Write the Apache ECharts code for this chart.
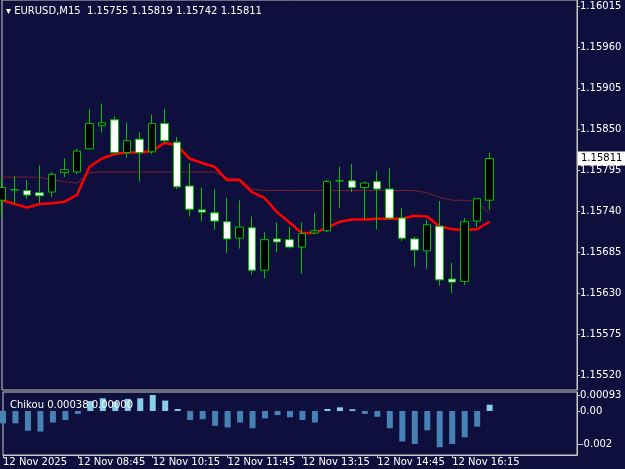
<!DOCTYPE html>
<html>
<head>
<meta charset="utf-8">
<title>EURUSD,M15</title>
<script src="https://cdn.jsdelivr.net/npm/echarts@6/dist/echarts.min.js"></script>
<style>html,body{margin:0;padding:0;background:#0f0f3d;}#chart{width:625px;height:469px;}</style>
</head>
<body>
<div id="chart"></div>
<script>
// candles: [open, close, low, high]
const opens  = [1.15755,1.15769,1.15768,1.15765,1.15766,1.15792,1.15793,1.15824,1.15855,1.15863,1.15819,1.15837,1.15820,1.15858,1.15833,1.15774,1.15742,1.15738,1.15726,1.15704,1.15718,1.15661,1.15703,1.15702,1.15692,1.15711,1.15714,1.15781,1.15781,1.15772,1.15780,1.15770,1.15731,1.15703,1.15687,1.15720,1.15649,1.15646,1.15727,1.15755];
const closes = [1.15772,1.15769,1.15762,1.15761,1.15790,1.15796,1.15821,1.15858,1.15859,1.15819,1.15835,1.15819,1.15858,1.15835,1.15773,1.15743,1.15739,1.15727,1.15703,1.15719,1.15661,1.15702,1.15699,1.15692,1.15710,1.15714,1.15780,1.15781,1.15772,1.15778,1.15770,1.15731,1.15704,1.15688,1.15722,1.15648,1.15645,1.15726,1.15757,1.15811];
const highs  = [1.15786,1.15788,1.15782,1.15802,1.15793,1.15811,1.15824,1.15878,1.15885,1.15868,1.15859,1.15846,1.15870,1.15878,1.15840,1.15805,1.15772,1.15770,1.15758,1.15755,1.15733,1.15712,1.15725,1.15719,1.15725,1.15738,1.15782,1.15800,1.15804,1.15780,1.15794,1.15798,1.15745,1.15706,1.15729,1.15754,1.15671,1.15731,1.15758,1.15819];
const lows   = [1.15733,1.15751,1.15757,1.15751,1.15759,1.15786,1.15790,1.15823,1.15846,1.15817,1.15812,1.15780,1.15817,1.15832,1.15770,1.15733,1.15727,1.15715,1.15684,1.15690,1.15655,1.15650,1.15685,1.15690,1.15656,1.15710,1.15712,1.15745,1.15766,1.15730,1.15716,1.15730,1.15700,1.15665,1.15663,1.15640,1.15630,1.15641,1.15719,1.15742];
const fastLine = [1.15755,1.15750,1.15745,1.15750,1.15751,1.15753,1.15762,1.15800,1.15811,1.15817,1.15819,1.15819,1.15821,1.15832,1.15829,1.15811,1.15805,1.15800,1.15782,1.15782,1.15766,1.15758,1.15739,1.15725,1.15711,1.15711,1.15718,1.15726,1.15729,1.15729,1.15730,1.15730,1.15730,1.15734,1.15733,1.15720,1.15716,1.15715,1.15716,1.15726];
const slowLine = [1.15786,1.15786,1.15786,1.15786,1.15782,1.15780,1.15778,1.15792,1.15793,1.15793,1.15793,1.15793,1.15793,1.15793,1.15793,1.15793,1.15793,1.15793,1.15785,1.15784,1.15770,1.15768,1.15768,1.15768,1.15768,1.15768,1.15768,1.15768,1.15768,1.15768,1.15768,1.15768,1.15768,1.15768,1.15765,1.15759,1.15755,1.15755,1.15753,1.15737];
const chikou = [-0.00075,-0.00075,-0.0012,-0.00125,-0.0007,-0.00055,-0.00018,0.0006,0.00077,0.00057,0.00073,0.00077,0.00097,0.00063,0.00012,-0.00055,-0.0005,-0.0009,-0.001,-0.0007,-0.00105,-0.00045,-0.00025,-0.00038,-0.00055,-0.0007,0.00012,0.00022,0.0001,-0.00018,-0.00035,-0.00105,-0.00185,-0.002,-0.00117,-0.0022,-0.002,-0.0016,-0.00095,0.00038];
const priceTicks = [1.16015,1.15960,1.15905,1.15850,1.15795,1.15740,1.15685,1.15630,1.15575,1.15520];
const chikouTicks = [0.00093,0,-0.002];
const timeLabels = ['12 Nov 2025','12 Nov 08:45','12 Nov 10:15','12 Nov 11:45','12 Nov 13:15','12 Nov 14:45','12 Nov 16:15'];
const lastPrice = 1.15811;

const nSlots = 47;
const cats = [];
for (let i = 0; i < nSlots; i++) cats.push(i);
const candles = opens.map((o, i) => [o, closes[i], lows[i], highs[i]]);

const chart = echarts.init(document.getElementById('chart'));
const txt = {color: '#ffffff', fontFamily: 'DejaVu Sans', fontSize: 10};
const showTick = i => i % 6 === 0 && i / 6 < timeLabels.length;
chart.setOption({
  backgroundColor: '#0f0f3d',
  animation: false,
  title: [
    {text: '▾ EURUSD,M15  1.15755 1.15819 1.15742 1.15811', left: 1, top: 1,
     textStyle: {color: '#ffffff', fontFamily: 'DejaVu Sans', fontSize: 10, fontWeight: 'normal'}},
    {text: 'Chikou 0.00038 0.00000', left: 5, top: 395,
     textStyle: {color: '#ffffff', fontFamily: 'DejaVu Sans', fontSize: 10, fontWeight: 'normal'}}
  ],
  grid: [
    {left: 2, right: 48, top: 0, height: 390, show: true, borderColor: '#c8c8c8', borderWidth: 1},
    {left: 2, right: 48, top: 392, height: 63, show: true, borderColor: '#c8c8c8', borderWidth: 1}
  ],
  xAxis: [
    {type: 'category', gridIndex: 0, data: cats, boundaryGap: false, show: false},
    {type: 'category', gridIndex: 1, data: cats, boundaryGap: false,
     axisLine: {onZero: false, lineStyle: {color: '#c8c8c8'}},
     axisTick: {show: true, length: 3, interval: showTick, lineStyle: {color: '#c8c8c8'}},
     axisLabel: Object.assign({}, txt, {interval: showTick, align: 'left', margin: 2,
       formatter: v => timeLabels[v / 6] || ''})}
  ],
  yAxis: [
    {type: 'value', gridIndex: 0, position: 'right', min: 1.15500, max: 1.16024, splitLine: {show: false},
     axisLine: {show: true, lineStyle: {color: '#c8c8c8'}},
     axisTick: {show: true, length: 3, customValues: priceTicks, lineStyle: {color: '#c8c8c8'}},
     axisLabel: Object.assign({}, txt, {margin: 3, customValues: priceTicks, formatter: v => v.toFixed(5)})},
    {type: 'value', gridIndex: 1, position: 'right', min: -0.00267, max: 0.00115, splitLine: {show: false},
     axisLine: {show: true, lineStyle: {color: '#c8c8c8'}},
     axisTick: {show: true, length: 3, customValues: chikouTicks, lineStyle: {color: '#c8c8c8'}},
     axisLabel: Object.assign({}, txt, {margin: 3, customValues: chikouTicks,
       formatter: v => v === 0 ? '0.00' : (v < 0 ? v.toFixed(3) : v.toFixed(5))})}
  ],
  series: [
    {type: 'line', xAxisIndex: 0, yAxisIndex: 0, data: slowLine, symbol: 'none',
     lineStyle: {color: '#7a1e2e', width: 1}, z: 1},
    {type: 'line', xAxisIndex: 0, yAxisIndex: 0, data: fastLine, symbol: 'none',
     lineStyle: {color: '#ff0000', width: 2.5}, z: 2},
    {type: 'candlestick', xAxisIndex: 0, yAxisIndex: 0, data: candles, barWidth: 8, clip: false, z: 3,
     itemStyle: {color: '#000000', color0: '#ffffff', borderColor: '#00c000', borderColor0: '#00c000', borderWidth: 1}},
    {type: 'bar', xAxisIndex: 1, yAxisIndex: 1, barWidth: 6,
     data: chikou.map(v => ({value: v, itemStyle: {color: v >= 0 ? '#87ceeb' : '#4682b4'}}))}
  ]
});

// current price box on the price scale
const py = chart.convertToPixel({yAxisIndex: 0}, lastPrice);
chart.setOption({
  graphic: [{type: 'text', left: 578, top: py - 7, z: 100,
    style: {text: lastPrice.toFixed(5), fill: '#000000', backgroundColor: '#ffffff',
      font: '10px DejaVu Sans', padding: [2, 3]}}]
});
</script>
</body>
</html>
